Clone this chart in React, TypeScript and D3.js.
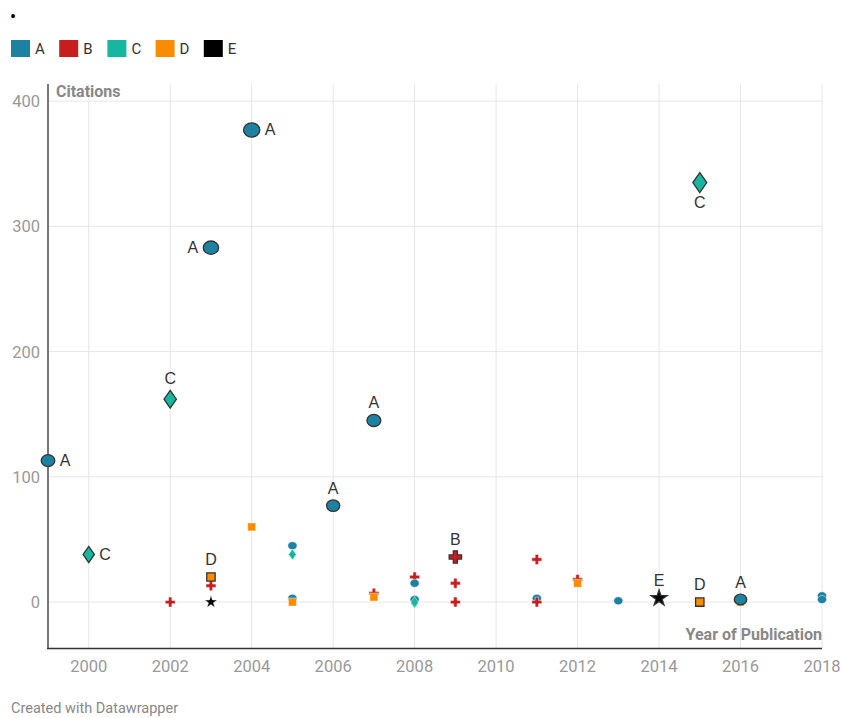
import React from "react";
import * as d3 from "d3";

const groups = ["A", "B", "C", "D", "E"];
const groupColors = ["#1d81a2", "#c71e1d", "#15b79e", "#fa8c00", "#000000"];

// [year, citations, group]
const years = [1999, 2003, 2004, 2002, 2000, 2006, 2007, 2003, 2009, 2015, 2014, 2015, 2016,
  2002, 2003, 2003, 2004, 2005, 2005, 2005, 2005, 2007, 2007, 2008, 2008, 2008, 2008, 2008,
  2009, 2009, 2009, 2009, 2011, 2011, 2011, 2012, 2012, 2013, 2016, 2018, 2018];
const citations = [113, 283, 377, 162, 38, 77, 145, 20, 36, 335, 3, 0, 2,
  0, 13, 0, 60, 45, 38, 3, 0, 7, 4, 20, 15, 2, -1, 0,
  15, 15, 0, 0, 34, 3, 0, 18, 15, 1, 0, 5, 2];
const pointGroups = ["A", "A", "A", "C", "C", "A", "A", "D", "B", "C", "E", "D", "A",
  "B", "B", "E", "D", "A", "C", "A", "D", "B", "D", "B", "A", "A", "C", "C",
  "C", "B", "C", "B", "B", "A", "B", "B", "D", "A", "D", "A", "A"];
// highlighted points carry a label placed at this side; "" = not highlighted
const labelSides = ["right", "left", "right", "top", "right", "top", "top", "top", "top", "bottom", "top", "top", "top",
  "", "", "", "", "", "", "", "", "", "", "", "", "", "", "",
  "", "", "", "", "", "", "", "", "", "", "", "", ""];

const xTicks = [2000, 2002, 2004, 2006, 2008, 2010, 2012, 2014, 2016, 2018];
const yTicks = [0, 100, 200, 300, 400];

const W = 842, H = 718;
const FONT = "Roboto, 'Noto Sans', sans-serif";
const LFONT = "'Liberation Sans', Arial, sans-serif";

const x = d3.scaleLinear().domain([1999, 2018]).range([48, 822]);
const y = d3.scaleLinear().domain([-36.7, 413.7]).range([648, 84]);
const color = d3.scaleOrdinal<string, string>().domain(groups).range(groupColors);
const boost = d3.scaleLinear().domain([0, 400]).range([1, 1.33]);

function shapePath(group: string, hl: boolean, c: number): string {
  const m = hl ? boost(Math.max(0, c)) : 1;
  if (group === "A") {
    const ry = hl ? 5.4 * m : 4, rx = ry * 1.15;
    return `M${-rx},0A${rx},${ry} 0 1,0 ${rx},0A${rx},${ry} 0 1,0 ${-rx},0Z`;
  }
  if (group === "C") {
    const hh = hl ? 7.8 * m : 5.5, hw = hh * 0.7;
    return `M0,${-hh}L${hw},0L0,${hh}L${-hw},0Z`;
  }
  if (group === "B") return d3.symbol(d3.symbolCross, hl ? 85 : 55)() as string;
  if (group === "D") return d3.symbol(d3.symbolSquare, hl ? 70 : 64)() as string;
  return d3.symbol(d3.symbolStar, hl ? 80 : 50)() as string;
}

export default function App() {
  const idx = d3.range(years.length);
  const small = idx.filter((i) => labelSides[i] === "");
  const big = idx.filter((i) => labelSides[i] !== "");

  const labelPos = (i: number) => {
    const px = x(years[i]), py = y(citations[i]);
    const m = boost(Math.max(0, citations[i]));
    const g = pointGroups[i];
    const half = g === "C" ? 7.8 * m * 0.7 : g === "A" ? 5.4 * m * 1.15 : 6;
    const side = labelSides[i];
    if (side === "right") return { lx: px + half + 5, ly: py + 5.5, anchor: "start" };
    if (side === "left") return { lx: px - half - 5, ly: py + 5.5, anchor: "end" };
    if (side === "bottom") return { lx: px, ly: py + 7.8 * m + 15, anchor: "middle" };
    const vh = g === "C" ? 7.8 * m : g === "A" ? 5.4 * m : 6;
    return { lx: px, ly: py - vh - 6, anchor: "middle" };
  };

  return (
    <svg width={W} height={H} style={{ position: "absolute", left: 0, top: 0, background: "#fff" }} fontFamily={FONT}>
      <text x={10} y={23} fontSize={18} fill="#000">•</text>
      {groups.map((g, i) => (
        <g key={g} transform={`translate(${11 + i * 48.2},40)`}>
          <rect width={19} height={17} fill={color(g)} />
          <text x={24} y={14} fontSize={15} fill="#333">{g}</text>
        </g>
      ))}

      {yTicks.map((t) => (
        <g key={"y" + t}>
          <line x1={48} x2={822} y1={y(t)} y2={y(t)} stroke="#e6e6e6" strokeWidth={1} />
          <text x={40} y={y(t) + 6} textAnchor="end" fontSize={16.5} fill="#999">{t}</text>
        </g>
      ))}
      {xTicks.map((t) => (
        <g key={"x" + t}>
          <line x1={x(t)} x2={x(t)} y1={84} y2={648} stroke="#e6e6e6" strokeWidth={1} />
          <text x={x(t)} y={672} textAnchor="middle" fontSize={16.5} fill="#999">{t}</text>
        </g>
      ))}
      <line x1={48} x2={48} y1={84} y2={648} stroke="#777" strokeWidth={2} />
      <line x1={47} x2={822} y1={648.5} y2={648.5} stroke="#333" strokeWidth={1.5} />

      <text x={56} y={97} fontSize={16} fontWeight="bold" fill="#888">Citations</text>
      <text x={822} y={640} textAnchor="end" fontSize={16} fontWeight="bold" fill="#888">Year of Publication</text>

      {small.map((i) => (
        <path key={"s" + i} d={shapePath(pointGroups[i], false, citations[i])}
          transform={`translate(${x(years[i])},${y(citations[i])})`}
          fill={color(pointGroups[i])} stroke="#fff" strokeOpacity={0.6} strokeWidth={0.8} />
      ))}
      {big.map((i) => {
        const { lx, ly, anchor } = labelPos(i);
        return (
          <g key={"b" + i}>
            <path d={shapePath(pointGroups[i], true, citations[i])}
              transform={`translate(${x(years[i])},${y(citations[i])})`}
              fill={color(pointGroups[i])} stroke="#333" strokeWidth={1.3} />
            <text x={lx} y={ly} textAnchor={anchor} fontSize={16} fontFamily={LFONT} fill="#333">{pointGroups[i]}</text>
          </g>
        );
      })}

      <text x={11} y={713} fontSize={14.5} fill="#888">Created with Datawrapper</text>
    </svg>
  );
}
